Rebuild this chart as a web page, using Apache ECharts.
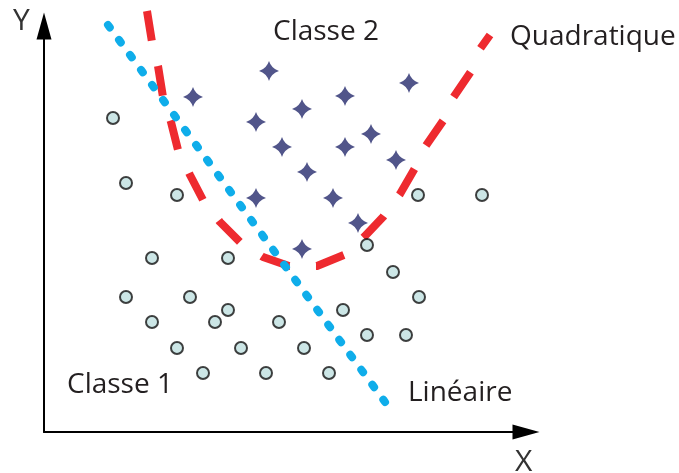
<!DOCTYPE html>
<html>
<head>
<meta charset="utf-8">
<script src="https://cdn.jsdelivr.net/npm/echarts@6/dist/echarts.min.js"></script>
<style>
html,body{margin:0;padding:0;background:#fff;}
#chart{width:679px;height:473px;}
</style>
</head>
<body>
<div id="chart"></div>
<script>
// Class 1 points (circles)
const classe1X = [69, 82, 133, 108, 184, 82, 146, 184, 108, 171, 133, 197, 159, 323, 349, 375, 299, 235, 323, 362, 260, 222, 285, 374, 438];
const classe1Y = [314, 249, 237, 174, 174, 135, 135, 122, 110, 110, 84, 84, 59, 187, 160, 135, 122, 110, 97, 97, 84, 59, 59, 237, 237];
// Class 2 points (stars)
const classe2X = [225, 365, 301, 258, 212, 327, 238, 301, 352, 263, 212, 289, 314, 258, 149];
const classe2Y = [361, 349, 336, 323, 310, 298, 285, 285, 272, 260, 234, 234, 209, 183, 335];
// Linear boundary (endpoints)
const lineaireX = [64, 341];
const lineaireY = [407, 30];
// Quadratic boundary (traced points)
const quadX = [103, 108, 114, 119, 127, 134, 146, 159, 176, 196, 219, 245, 273, 300, 321, 339, 356, 371, 381, 401, 409, 428, 436, 446];
const quadY = [421, 390, 366, 335, 310, 282, 257, 232, 210, 190, 175, 166, 166, 177, 196, 215, 238, 264, 285, 314, 334, 362, 383, 397];
// Axis extents
const xMax = 482;
const yMax = 406;

const zip = (a, b) => a.map((v, i) => [v, b[i]]);
const starPath = 'path://M10,0 Q12.4,7.6 20,10 Q12.4,12.4 10,20 Q7.6,12.4 0,10 Q7.6,7.6 10,0 Z';
const font = '"Open Sans", "Noto Sans", sans-serif';
const txtColor = '#231f20';

const chart = echarts.init(document.getElementById('chart'), null, {renderer: 'canvas'});
const axisCommon = {
  type: 'value',
  min: 0,
  axisTick: {show: false},
  axisLabel: {show: false},
  splitLine: {show: false},
  axisLine: {
    show: true,
    onZero: false,
    symbol: ['none', 'triangle'],
    symbolSize: [15, 27],
    lineStyle: {color: '#000', width: 2}
  }
};
chart.setOption({
  animation: false,
  backgroundColor: '#fff',
  grid: {left: 44, top: 26, right: 153, bottom: 41, containLabel: false},
  xAxis: Object.assign({}, axisCommon, {max: xMax}),
  yAxis: Object.assign({}, axisCommon, {max: yMax}),
  series: [
    {
      type: 'line',
      data: zip(quadX, quadY),
      smooth: false,
      showSymbol: false,
      clip: false,
      lineStyle: {color: '#ee2a2f', width: 8, type: [30, 26.1], cap: 'butt', join: 'round'},
      z: 2
    },
    {
      type: 'line',
      data: zip(lineaireX, lineaireY),
      showSymbol: false,
      clip: false,
      lineStyle: {color: '#0fadea', width: 8, type: [3, 15.6], cap: 'round'},
      z: 3
    },
    {
      type: 'scatter',
      data: zip(classe1X, classe1Y),
      symbol: 'circle',
      symbolSize: 12,
      clip: false,
      itemStyle: {color: '#bfe0e0', borderColor: '#111', borderWidth: 2},
      z: 4
    },
    {
      type: 'scatter',
      data: zip(classe2X, classe2Y),
      symbol: starPath,
      symbolSize: 20,
      clip: false,
      itemStyle: {color: '#262b6d'},
      z: 4
    }
  ],
  graphic: [
    {type: 'text', x: 13, y: 21, style: {text: 'Y', font: '30px ' + font, fill: '#333', verticalAlign: 'middle'}},
    {type: 'text', x: 515, y: 462, style: {text: 'X', font: '30px ' + font, fill: '#333', verticalAlign: 'middle'}},
    {type: 'text', x: 273, y: 32, style: {text: 'Classe 2', font: '28px ' + font, fill: txtColor, verticalAlign: 'middle'}},
    {type: 'text', x: 67, y: 385, style: {text: 'Classe 1', font: '28px ' + font, fill: txtColor, verticalAlign: 'middle'}},
    {type: 'text', x: 408, y: 393, style: {text: 'Linéaire', font: '28px ' + font, fill: txtColor, verticalAlign: 'middle'}},
    {type: 'text', x: 510, y: 37, style: {text: 'Quadratique', font: '28px ' + font, fill: txtColor, verticalAlign: 'middle'}}
  ]
});
</script>
</body>
</html>
